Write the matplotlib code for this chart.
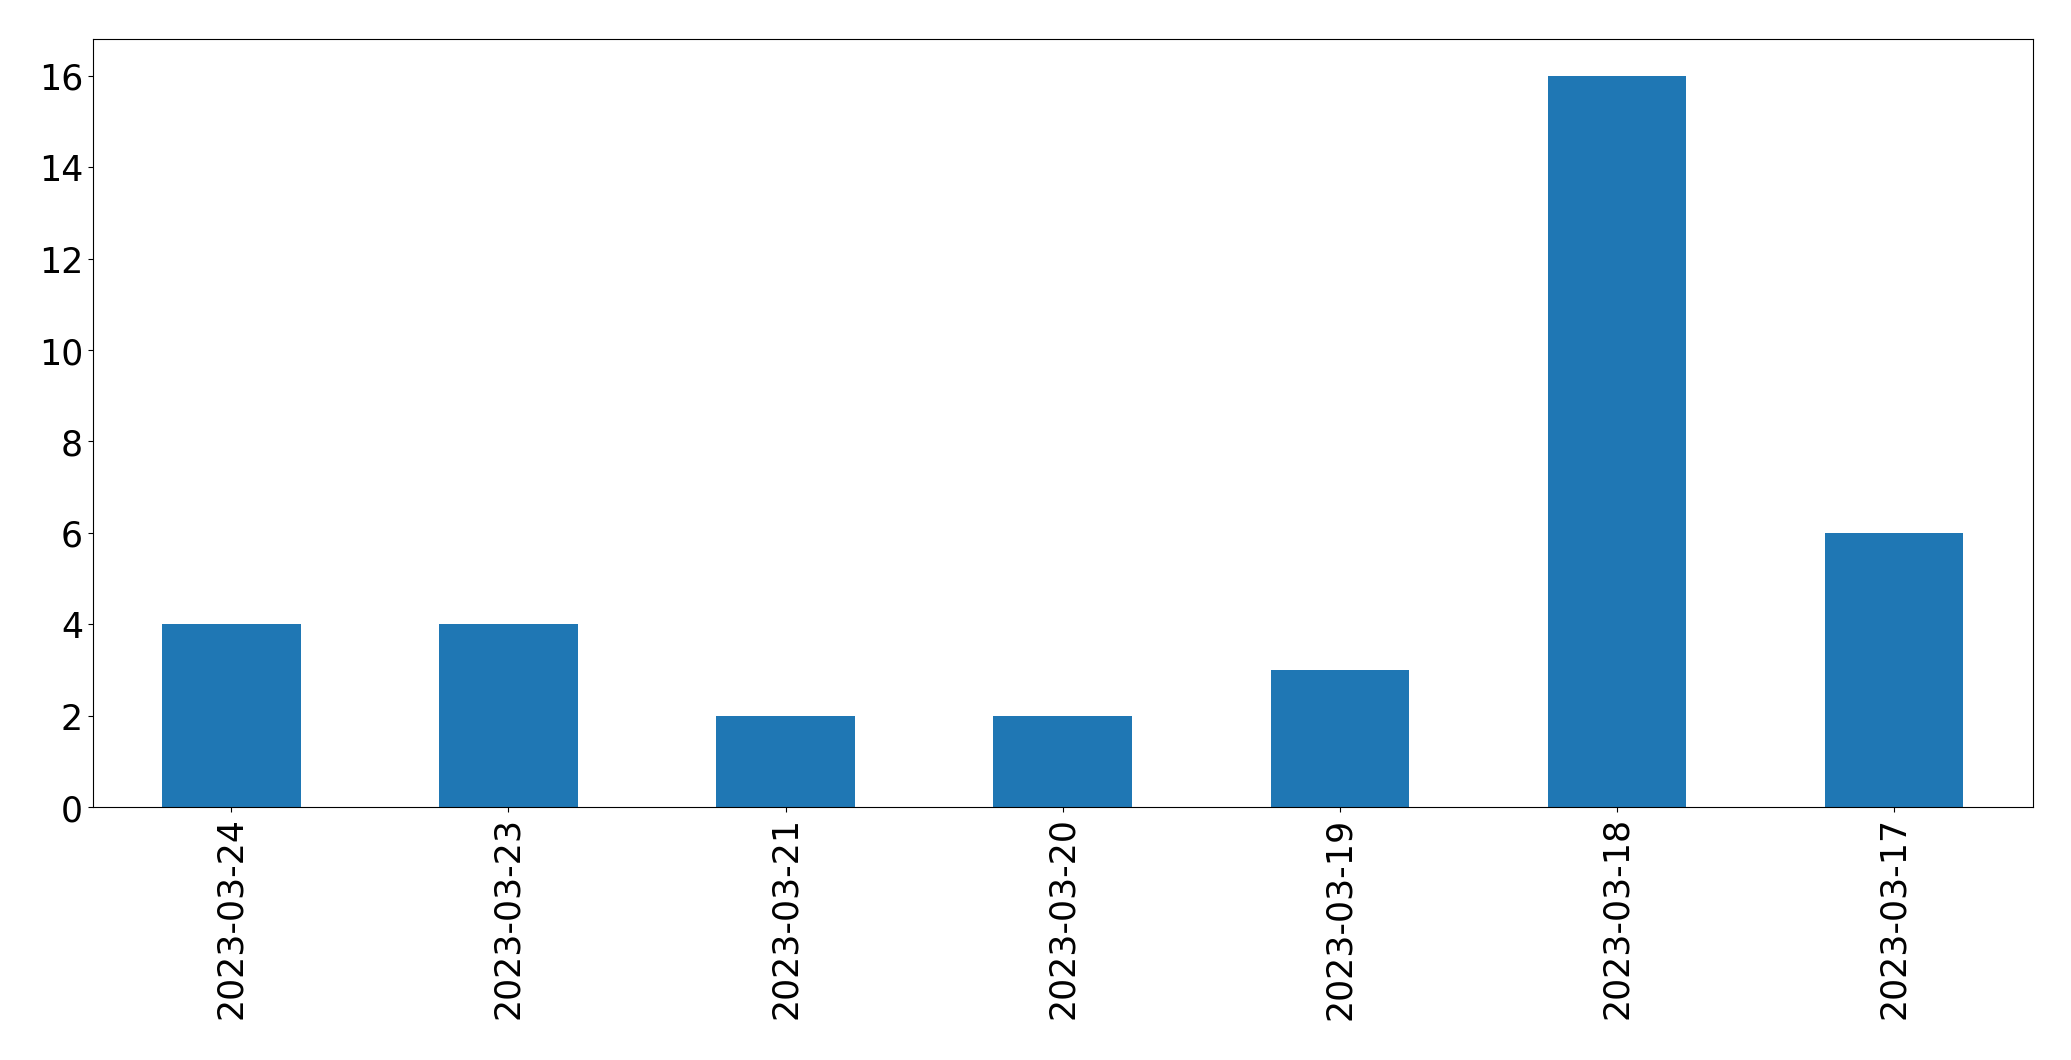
import matplotlib
matplotlib.use('Agg')
import matplotlib.pyplot as plt

dates = ['2023-03-24', '2023-03-23', '2023-03-21', '2023-03-20',
         '2023-03-19', '2023-03-18', '2023-03-17']
counts = [4, 4, 2, 2, 3, 16, 6]

fig, ax = plt.subplots(figsize=(20.71, 10.605), dpi=100)
x = range(len(dates))
ax.bar(x, counts, width=0.5, color='#1f77b4')
ax.set_xticks(list(x))
ax.set_xticklabels(dates, rotation=90)
ax.set_xlim(-0.5, len(dates) - 0.5)
ax.set_ylim(0, max(counts) * 1.05)
ax.tick_params(labelsize=25)
plt.subplots_adjust(left=0.0448, right=0.9815, top=0.9625, bottom=0.2385)
plt.savefig('out.png', dpi=100)
